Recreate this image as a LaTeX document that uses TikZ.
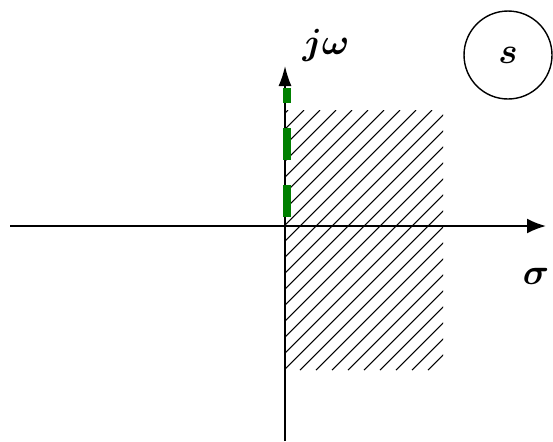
\documentclass[tikz,border=0pt]{standalone}
\usetikzlibrary{arrows.meta}
\begin{document}
\begin{tikzpicture}[x=0.02cm,y=-0.02cm,
  axis/.style={line width=1.2pt,-{Latex[length=0.38cm,width=0.3cm]}},
  hatchline/.style={line width=0.6pt,black},
  lbl/.style={font=\fontsize{22}{26}\selectfont\boldmath}]
\useasboundingbox (0,0) rectangle (553,441);
% hatched region
\begin{scope}
\clip (285,110) rectangle (443,370);
\foreach \a in {-260,-244,...,460}
  \draw[hatchline] (\a,370) -- (\a+260,110);
\end{scope}
% axes
\coordinate (xl) at (10,226);
\coordinate (xr) at (546,226);
\coordinate (yb) at (285,441);
\coordinate (yt) at (285,66);
\draw[axis] (xl) -- (xr);
\draw[line width=0.9pt,-{Latex[length=0.4cm,width=0.26cm]}] (yb) -- (yt);
% green dashed
\coordinate (gb) at (287,217);
\coordinate (gt) at (287,88);
\draw[line width=4.4pt,color=green!50!black,dash pattern=on 0.64cm off 0.5cm] (gb) -- (gt);
% labels
\node[lbl] (jw) at (326,45) {$j\omega$};
\node[lbl] (sig) at (536,276) {$\sigma$};
\node[draw,circle,line width=0.8pt,minimum size=1.76cm,inner sep=0pt] (sc) at (508,55) {};
\node[lbl] (s) at (sc) {$s$};
\end{tikzpicture}
\end{document}
